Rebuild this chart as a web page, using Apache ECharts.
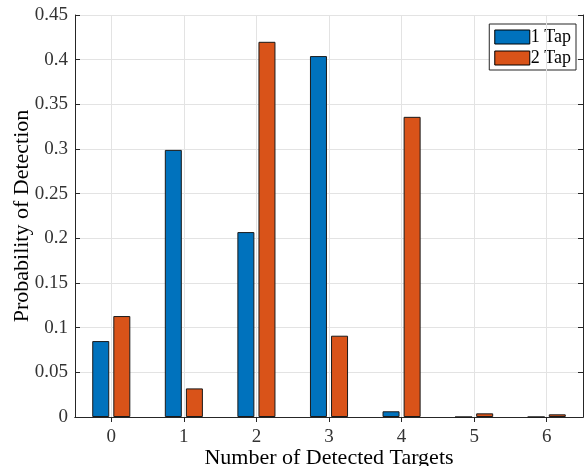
<!DOCTYPE html>
<html>
<head>
<meta charset="utf-8">
<script src="https://cdn.jsdelivr.net/npm/echarts@6/dist/echarts.min.js"></script>
<style>html,body{margin:0;padding:0;background:#fff;}#chart{width:585px;height:466px;}</style>
</head>
<body>
<div id="chart"></div>
<script>
const categories = ['0', '1', '2', '3', '4', '5', '6'];
const tap1 = [0.085, 0.299, 0.207, 0.404, 0.0064, 0, 0];
const tap2 = [0.113, 0.032, 0.420, 0.091, 0.336, 0.0041, 0.003];
const seriesNames = ['1 Tap', '2 Tap'];

const FONT = '"Liberation Serif", "DejaVu Serif", serif';
const AX = '#262626';
const GRID = '#e3e3e3';

const chart = echarts.init(document.getElementById('chart'));
chart.setOption({
  animation: false,
  backgroundColor: '#fff',
  textStyle: { fontFamily: FONT },
  grid: { left: 75, right: 2, top: 15, bottom: 49, containLabel: false, outerBoundsMode: 'none' },
  legend: {
    data: seriesNames,
    orient: 'vertical',
    right: 9, top: 24,
    icon: 'rect',
    itemWidth: 35, itemHeight: 14, itemGap: 3,
    padding: [4, 5, 3, 5],
    backgroundColor: '#fff',
    borderColor: AX, borderWidth: 1, borderRadius: 0,
    textStyle: { fontFamily: FONT, fontSize: 18, lineHeight: 16, color: '#000', padding: [0, 0, 0, -4] },
    itemStyle: { borderColor: '#000', borderWidth: 1 }
  },
  xAxis: [{
    type: 'category', data: categories, position: 'bottom',
    name: 'Number of Detected Targets', nameLocation: 'middle', nameGap: 30, nameMoveOverlap: false,
    nameTextStyle: { fontFamily: FONT, fontSize: 22, color: '#000', verticalAlign: 'top' },
    axisLine: { lineStyle: { color: AX, width: 1 } },
    axisTick: { inside: true, alignWithLabel: true, length: 5, lineStyle: { color: AX } },
    axisLabel: { fontFamily: FONT, fontSize: 19, color: '#333', margin: 11 },
    splitLine: { show: false }
  }, {
    type: 'category', data: categories, position: 'top',
    axisLine: { show: true, lineStyle: { color: AX, width: 1 } },
    axisTick: { show: true, inside: true, alignWithLabel: true, length: 5, lineStyle: { color: AX } },
    axisLabel: { show: false }, splitLine: { show: false }
  }],
  yAxis: [{
    type: 'value', min: 0, max: 0.45, interval: 0.05, position: 'left',
    name: 'Probability of Detection', nameLocation: 'middle', nameGap: 42, nameMoveOverlap: false,
    nameTextStyle: { fontFamily: FONT, fontSize: 22, color: '#000' },
    axisLine: { show: true, lineStyle: { color: AX, width: 1 } },
    axisTick: { show: true, inside: true, length: 5, lineStyle: { color: AX } },
    axisLabel: { fontFamily: FONT, fontSize: 19, color: '#333', margin: 7 },
    splitLine: { show: true, lineStyle: { color: GRID, width: 1 } }
  }, {
    type: 'value', min: 0, max: 0.45, interval: 0.05, position: 'right',
    axisLine: { show: true, lineStyle: { color: AX, width: 1 } },
    axisTick: { show: true, inside: true, length: 5, lineStyle: { color: AX } },
    axisLabel: { show: false }, splitLine: { show: false }
  }],
  series: [{
    name: 'vgrid', type: 'line', data: categories.map(() => null), z: 0,
    symbol: 'none', silent: true,
    markLine: {
      silent: true, symbol: 'none', label: { show: false },
      lineStyle: { color: GRID, type: 'solid', width: 1 },
      data: categories.map(c => ({ xAxis: c }))
    }
  }, {
    name: seriesNames[0], type: 'bar', data: tap1, z: 2,
    barWidth: 17, barGap: '24%',
    itemStyle: { color: '#0072BD', borderColor: '#1a1a1a', borderWidth: 1 }
  }, {
    name: seriesNames[1], type: 'bar', data: tap2, z: 2,
    barWidth: 17, barGap: '24%',
    itemStyle: { color: '#D95319', borderColor: '#1a1a1a', borderWidth: 1 }
  }]
});
</script>
</body>
</html>
